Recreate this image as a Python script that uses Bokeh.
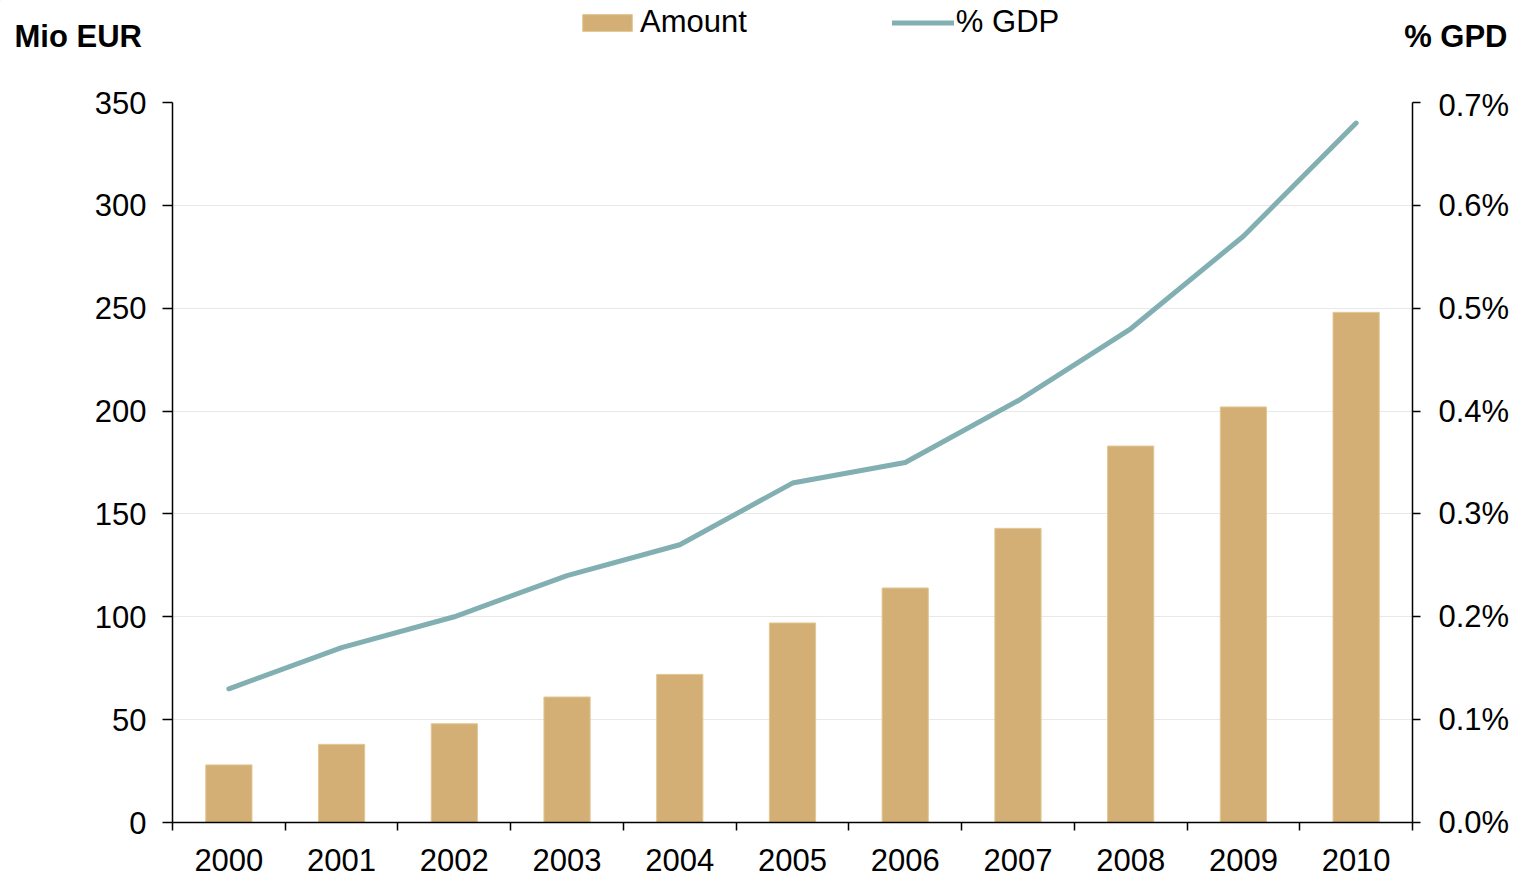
from bokeh.plotting import figure
from bokeh.models import (ColumnDataSource, LinearAxis, Range1d, FixedTicker,
                          PrintfTickFormatter, BasicTickFormatter, Legend, LegendItem, Label)
from bokeh.embed import file_html
from bokeh.resources import INLINE

# ---- data ----
years = [2000, 2001, 2002, 2003, 2004, 2005, 2006, 2007, 2008, 2009, 2010]
amount = [28, 38, 48, 61, 72, 97, 114, 143, 183, 202, 248]
pct_gdp = [0.13, 0.17, 0.20, 0.24, 0.27, 0.33, 0.35, 0.41, 0.48, 0.57, 0.68]
left_ticks = [0, 50, 100, 150, 200, 250, 300, 350]
right_ticks = [0.0, 0.1, 0.2, 0.3, 0.4, 0.5, 0.6, 0.7]
left_title = "Mio EUR"
right_title = "% GPD"
series_names = ["Amount", "% GDP"]

FONT = "Liberation Sans"
FS = "31px"
BAR_COLOR = "#D3AF76"
BAR_EDGE = "#E2C792"
LINE_COLOR = "#82AFB2"
LINE_W = 5
W = 1512
HEAD_H = 87

# ---------------- header strip: axis titles + legend ----------------
head = figure(width=W, height=HEAD_H, x_range=Range1d(0, W), y_range=Range1d(HEAD_H, 0),
              x_axis_location=None, y_axis_location=None, min_border=0,
              output_backend="svg", toolbar_location=None)
head.outline_line_color = None
head.grid.visible = False
head.background_fill_color = "white"
head.border_fill_color = "white"

head.add_layout(Label(x=14, y=36, text=left_title, text_font=FONT, text_font_size=FS,
                      text_font_style="bold", text_color="black",
                      text_align="left", text_baseline="alphabetic"))
head.add_layout(Label(x=1507, y=36, text=right_title, text_font=FONT, text_font_size=FS,
                      text_font_style="bold", text_color="black",
                      text_align="right", text_baseline="alphabetic"))

# legend key renderers: same styles as the chart's glyphs, placed off-screen
key_bar = head.vbar(x=[-100], top=[0], width=1, fill_color=BAR_COLOR,
                    line_color=BAR_EDGE, line_width=1)
key_line = head.line(x=[-100, -99], y=[0, 0], line_color=LINE_COLOR,
                     line_width=LINE_W, line_cap="round")
legend = Legend(items=[LegendItem(label=series_names[0], renderers=[key_bar]),
                       LegendItem(label=series_names[1], renderers=[key_line])],
                orientation="horizontal", location=(576, HEAD_H - 40),
                glyph_width=62, glyph_height=21, label_standoff=2, spacing=145,
                padding=0, margin=0, border_line_color=None, background_fill_alpha=0,
                label_text_font=FONT, label_text_font_size=FS, label_text_color="black")
head.add_layout(legend, "center")

# ---------------- main chart ----------------
src = ColumnDataSource(dict(year=years, amount=amount, pct=pct_gdp))

x_lo, x_hi = years[0] - 0.5, years[-1] + 0.5
p = figure(frame_width=1240, frame_height=720,
           min_border_left=172, min_border_top=15, min_border_right=100, min_border_bottom=54,
           x_range=Range1d(x_lo, x_hi), y_range=Range1d(left_ticks[0], left_ticks[-1]),
           output_backend="svg", toolbar_location=None)
p.outline_line_color = None
p.background_fill_color = "white"
p.border_fill_color = "white"

# x axis
xa = p.xaxis[0]
xa.ticker = FixedTicker(ticks=years, minor_ticks=[y - 0.5 for y in years] + [x_hi])
xa.formatter = BasicTickFormatter(use_scientific=False)
xa.major_tick_out = 0
xa.major_tick_in = 0
xa.minor_tick_out = 8
xa.minor_tick_in = 0
xa.minor_tick_line_color = "black"
xa.minor_tick_line_width = 1.5
xa.axis_line_color = "black"
xa.axis_line_width = 1.5
xa.major_label_text_font = FONT
xa.major_label_text_font_size = FS
xa.major_label_text_color = "black"
xa.major_label_standoff = 18

# left axis
ya = p.yaxis[0]
ya.ticker = FixedTicker(ticks=left_ticks)
ya.major_tick_out = 10
ya.major_tick_in = 0
ya.minor_tick_out = 0
ya.minor_tick_in = 0
ya.major_tick_line_width = 1.5
ya.axis_line_width = 1.5
ya.axis_line_color = "black"
ya.major_label_text_font = FONT
ya.major_label_text_font_size = FS
ya.major_label_text_color = "black"
ya.major_label_standoff = 16

# right axis
p.extra_y_ranges = {"pct": Range1d(right_ticks[0], right_ticks[-1])}
ra = LinearAxis(y_range_name="pct", ticker=FixedTicker(ticks=right_ticks),
                formatter=PrintfTickFormatter(format="%.1f%%"))
ra.major_tick_out = 8
ra.major_tick_in = 0
ra.minor_tick_out = 0
ra.minor_tick_in = 0
ra.major_tick_line_width = 1.5
ra.axis_line_width = 1.5
ra.axis_line_color = "black"
ra.major_label_text_font = FONT
ra.major_label_text_font_size = FS
ra.major_label_text_color = "black"
ra.major_label_standoff = 18
p.add_layout(ra, "right")

# grid
p.xgrid.visible = False
p.ygrid.ticker = FixedTicker(ticks=left_ticks)
p.ygrid.grid_line_color = "#E8E8E8"
p.ygrid.grid_line_width = 1

# glyphs
bars = p.vbar(x="year", top="amount", width=0.41, source=src,
              fill_color=BAR_COLOR, line_color=BAR_EDGE, line_width=1)
line = p.line(x="year", y="pct", y_range_name="pct", source=src,
              line_color=LINE_COLOR, line_width=LINE_W, line_cap="round", line_join="round")

open("out.html", "w").write(file_html([head, p], INLINE))
